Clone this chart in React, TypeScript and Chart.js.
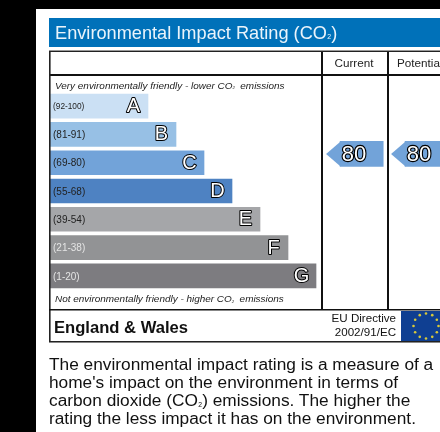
import React, { useEffect, useRef } from "react";
import { Chart, registerables } from "chart.js";

Chart.register(...registerables);

const bands = ["A", "B", "C", "D", "E", "F", "G"];
const ranges = ["(92-100)", "(81-91)", "(69-80)", "(55-68)", "(39-54)", "(21-38)", "(1-20)"];
const bandLengths = [35, 45, 55, 65, 75, 85, 95];
const bandColors = ["#cbe0f4", "#97c0e5", "#72a3d9", "#4e82c2", "#a5a6a9", "#929395", "#7d7c80"];
const rangeColors = ["#222", "#222", "#222", "#222", "#222", "#e4e4e4", "#e4e4e4"];
const ratingLabels = ["Current", "Potential"];
const ratings = [80, 80];
const title = "Environmental Impact Rating (CO\u2082)";
const topNote = "Very environmentally friendly - lower CO\u2082  emissions";
const bottomNote = "Not environmentally friendly - higher CO\u2082  emissions";
const region = "England & Wales";
const directive = ["EU Directive", "2002/91/EC"];
const paragraph = [
  "The environmental impact rating is a measure of a",
  "home's impact on the environment in terms of",
  "carbon dioxide (CO\u2082) emissions. The higher the",
  "rating the less impact it has on the environment.",
];

const FONT = '"Liberation Sans", Arial, sans-serif';
const LEFT = 49;
const COL1 = 321;
const COL2 = 387;
const W = 440;
const SUB = "\u2082";

// Draws a line of text, setting the subscript two at a reduced size.
function subText(c: any, text: string, x: number, y: number, style: string, size: number) {
  const [head, tail] = text.split(SUB);
  c.font = `${style} ${size}px ${FONT}`;
  c.fillText(head, x, y);
  let cx = x + c.measureText(head).width;
  c.font = `${style} ${size * 0.62}px ${FONT}`;
  c.fillText(SUB, cx, y + size * 0.06);
  cx += c.measureText(SUB).width;
  c.font = `${style} ${size}px ${FONT}`;
  c.fillText(tail, cx, y);
}

const frame = {
  id: "frame",
  beforeDraw(chart: any) {
    const c = chart.ctx;
    c.save();
    c.fillStyle = "#fff";
    c.fillRect(0, 0, 440, 432);
    c.fillStyle = "#000";
    c.fillRect(0, 0, 36, 432);
    c.fillRect(0, 0, 440, 9);
    c.fillStyle = "#0071b9";
    c.fillRect(LEFT, 18, W - LEFT, 29);
    c.restore();
  },
  afterDatasetsDraw(chart: any) {
    const c = chart.ctx;
    c.save();
    const line = (x: number, y: number, w: number, h: number, col = "#111") => {
      c.fillStyle = col;
      c.fillRect(x, y, w, h);
    };
    line(LEFT, 50, W - LEFT, 1, "#999");
    line(LEFT, 51, W - LEFT, 1, "#222");
    line(LEFT, 74, W - LEFT, 2);
    line(LEFT, 51, 1.6, 292, "#222");
    line(COL1, 52, 2, 258);
    line(COL2, 52, 2, 258);
    line(LEFT, 309, W - LEFT, 1.5);
    line(LEFT, 341, W - LEFT, 1, "#222");
    line(LEFT, 342, W - LEFT, 1, "#888");

    // rating arrows
    c.textBaseline = "middle";
    ratings.forEach((r, i) => {
      const meta = chart.getDatasetMeta(i + 1);
      const bar = meta.data[0];
      const base = bar.base;
      const y = bar.y;
      c.fillStyle = bandColors[2];
      c.beginPath();
      c.moveTo(base + 0.5, y - 12.5);
      c.lineTo(base - 14, y);
      c.lineTo(base + 0.5, y + 12.5);
      c.closePath();
      c.fill();
      c.font = `22px ${FONT}`;
      c.textAlign = "center";
      c.lineJoin = "round";
      c.lineWidth = 2.3;
      c.strokeStyle = "#000";
      c.strokeText(String(r), base + 14, y + 1);
      c.fillStyle = "#fff";
      c.fillText(String(r), base + 14, y + 1);
    });

    // band labels
    const bandMeta = chart.getDatasetMeta(0);
    bandMeta.data.forEach((bar: any, i: number) => {
      c.textAlign = "left";
      c.font = `${i === 0 ? 8.3 : 10}px ${FONT}`;
      c.fillStyle = rangeColors[i];
      c.fillText(ranges[i], 53, bar.y + 1);
      c.textAlign = "center";
      c.font = `20px ${FONT}`;
      c.lineJoin = "round";
      c.lineWidth = 2;
      c.strokeStyle = "#000";
      c.strokeText(bands[i], bar.x - 14.5, bar.y + 0.5);
      c.fillStyle = "#fff";
      c.fillText(bands[i], bar.x - 14.5, bar.y + 0.5);
    });

    // headings
    c.textAlign = "left";
    c.fillStyle = "#eaf4fb";
    subText(c, title, 55, 34, "normal", 18.2);
    c.fillStyle = "#222";
    c.textAlign = "center";
    c.font = `11.7px ${FONT}`;
    c.fillText(ratingLabels[0], 354, 64);
    c.textAlign = "left";
    c.fillText(ratingLabels[1], 397, 64);
    subText(c, topNote, 55, 86, "italic", 9.95);
    subText(c, bottomNote, 55, 299.5, "italic", 9.95);
    c.fillStyle = "#111";
    c.font = `bold 16.6px ${FONT}`;
    c.fillText(region, 54, 328);
    c.textAlign = "right";
    c.font = `11.6px ${FONT}`;
    c.fillText(directive[0], 396, 319);
    c.fillText(directive[1], 396, 333);

    // flag
    c.fillStyle = "#0f3f92";
    c.fillRect(401, 311, 39, 30);
    c.fillStyle = "#d8c83a";
    for (let k = 0; k < 12; k++) {
      const a = (k * Math.PI) / 6;
      c.beginPath();
      c.arc(426 + 12.5 * Math.sin(a), 326 - 12.5 * Math.cos(a), 1.3, 0, Math.PI * 2);
      c.fill();
    }
    c.restore();
  },
};

export default function App() {
  const ref = useRef<HTMLCanvasElement>(null);
  useEffect(() => {
    const chart = new Chart(ref.current!, {
      type: "bar",
      data: {
        labels: bands,
        datasets: [
          {
            label: "Rating bands",
            data: bandLengths,
            backgroundColor: bandColors,
            barThickness: 24,
            grouped: false,
            yAxisID: "y",
            borderWidth: 0,
          } as any,
          {
            label: ratingLabels[0],
            data: [{ x: [103.6, 119], y: ratings[0] }],
            backgroundColor: bandColors[2],
            barThickness: 25,
            grouped: false,
            yAxisID: "yr",
            borderWidth: 0,
          } as any,
          {
            label: ratingLabels[1],
            data: [{ x: [126.8, 142], y: ratings[1] }],
            backgroundColor: bandColors[2],
            barThickness: 25,
            grouped: false,
            yAxisID: "yr",
            borderWidth: 0,
          } as any,
        ],
      },
      options: {
        indexAxis: "y",
        responsive: false,
        animation: false,
        devicePixelRatio: 1,
        layout: { padding: { left: 50, right: 0, top: 92, bottom: 142 } },
        plugins: { legend: { display: false }, tooltip: { enabled: false }, title: { display: false } },
        scales: {
          x: { type: "linear", min: 0, max: 139.28, display: false },
          y: { type: "category", display: false, grid: { display: false } },
          yr: { type: "linear", min: 30, max: 100, display: false, reverse: false },
        },
      } as any,
      plugins: [frame],
    });
    return () => chart.destroy();
  }, []);

  return (
    <div style={{ position: "fixed", left: 0, top: 0, width: 440, height: 432, overflow: "hidden" }}>
      <canvas ref={ref} width={440} height={432} style={{ display: "block" }} />
      {paragraph.map((t, i) => {
        const parts = t.split(SUB);
        return (
          <div
            key={i}
            style={{
              position: "absolute",
              left: 49,
              top: 355.5 + i * 18.3,
              fontFamily: FONT,
              fontSize: 17.3,
              lineHeight: "17px",
              color: "#111",
              whiteSpace: "nowrap",
            }}
          >
            {parts[0]}
            {parts.length > 1 ? <span style={{ fontSize: 11, lineHeight: 0 }}>{SUB}</span> : null}
            {parts[1]}
          </div>
        );
      })}
    </div>
  );
}
